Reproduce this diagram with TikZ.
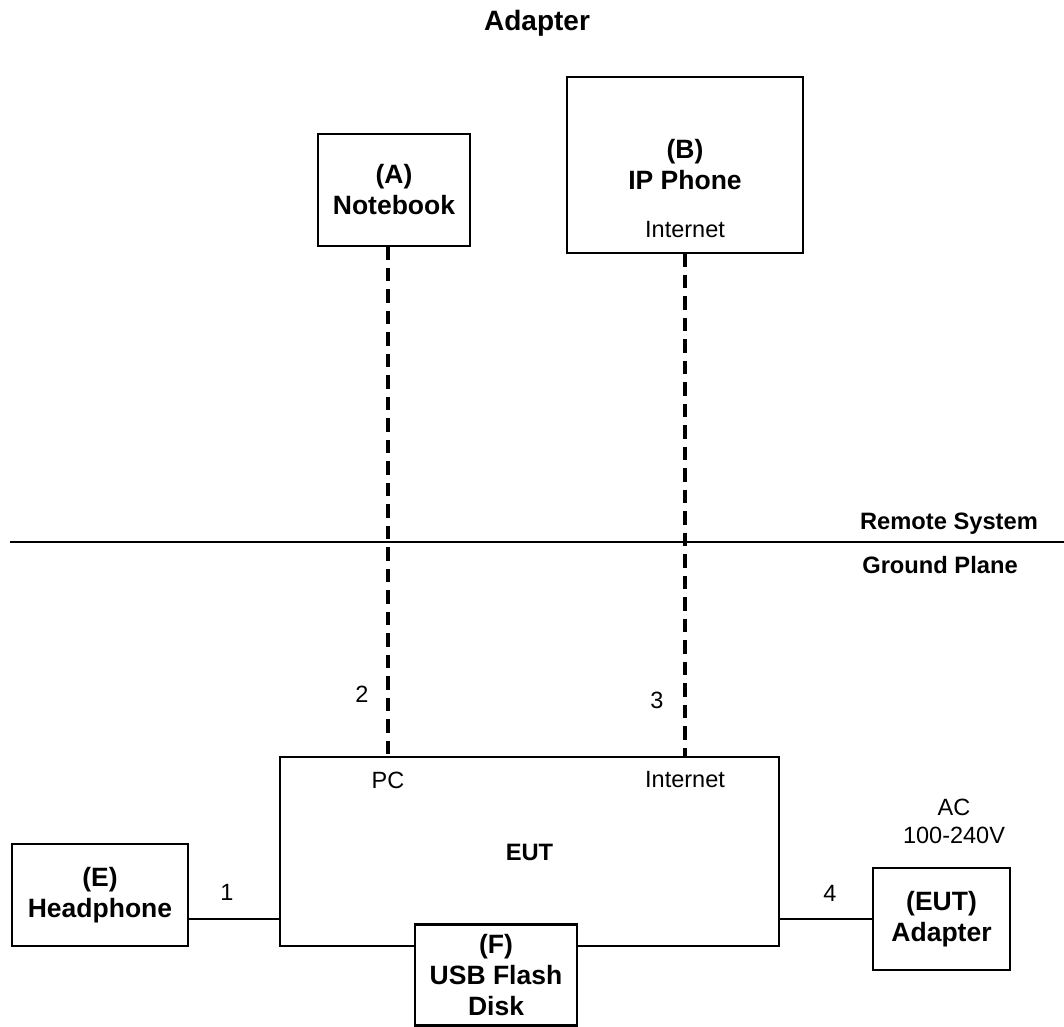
\documentclass[tikz,border=0pt]{standalone}
\usepackage{fontspec}
\setmainfont{Liberation Sans}
\begin{document}
\begin{tikzpicture}[x=1pt,y=-1pt,
  box/.style={draw,line width=2.2pt,fill=white,inner sep=0pt,outer sep=0pt,align=center,font=\fontsize{26.5}{31}\selectfont\bfseries},
  reg/.style={inner sep=0pt,align=center,font=\fontsize{23.5}{28}\selectfont},
  bld/.style={inner sep=0pt,align=center,font=\fontsize{23.7}{28}\selectfont\bfseries},
  solid line/.style={line width=2.2pt},
  dash line/.style={line width=3.6pt,dash pattern=on 13.5pt off 8pt}]
\useasboundingbox (0,0) rectangle (1064,1026);
% title
\node[inner sep=0pt,font=\fontsize{28}{32}\selectfont\bfseries] (title) at (537,23) {Adapter};
% boxes
\node[box,minimum width=152pt,minimum height=112pt] (A) at (394,190) {(A)\\Notebook};
\node[box,minimum width=236pt,minimum height=176pt] (B) at (685,165) {(B)\\IP Phone};
\node[reg] (Bint) at (685,230) {Internet};
\node[box,minimum width=499pt,minimum height=189pt] (EUT) at (529.5,851.5) {};
\node[bld] (EUTt) at (529.5,852) {EUT};
\node[reg] (pcl) at (388,780) {PC};
\node[reg] (intl) at (685,780) {Internet};
\node[box,minimum width=176pt,minimum height=102pt] (E) at (100,895) {(E)\\Headphone};
\node[box,minimum width=162pt,minimum height=101pt] (F) at (496,975) {(F)\\USB Flash\\Disk};
\node[box,minimum width=137pt,minimum height=102pt] (AD) at (941.5,919) {(EUT)\\Adapter};
\node[reg] (ac) at (954,821) {AC\\100-240V};
% ground line
\coordinate (gl) at (10,542);
\coordinate (gr) at (1064,542);
\draw[solid line] (gl) -- (gr);
\node[bld] (rs) at (949,524) {Remote System};
\node[bld] (gp) at (940,565) {Ground Plane};
% dashed connectors
\coordinate (pA) at (388,757);
\coordinate (pB) at (685,757);
\draw[dash line] (pA |- A.south) -- (pA);
\draw[dash line] (pB |- B.south) -- (pB);
\node[reg] (n2) at (362,694) {2};
\node[reg] (n3) at (657,700) {3};
% solid connectors
\coordinate (l1) at (0,919);
\draw[solid line] (E.east |- l1) -- (EUT.west |- l1);
\node[reg] (n1) at (227,892) {1};
\draw[solid line] (EUT.east |- AD.west) -- (AD.west);
\node[reg] (n4) at (830,893) {4};
\end{tikzpicture}
\end{document}
